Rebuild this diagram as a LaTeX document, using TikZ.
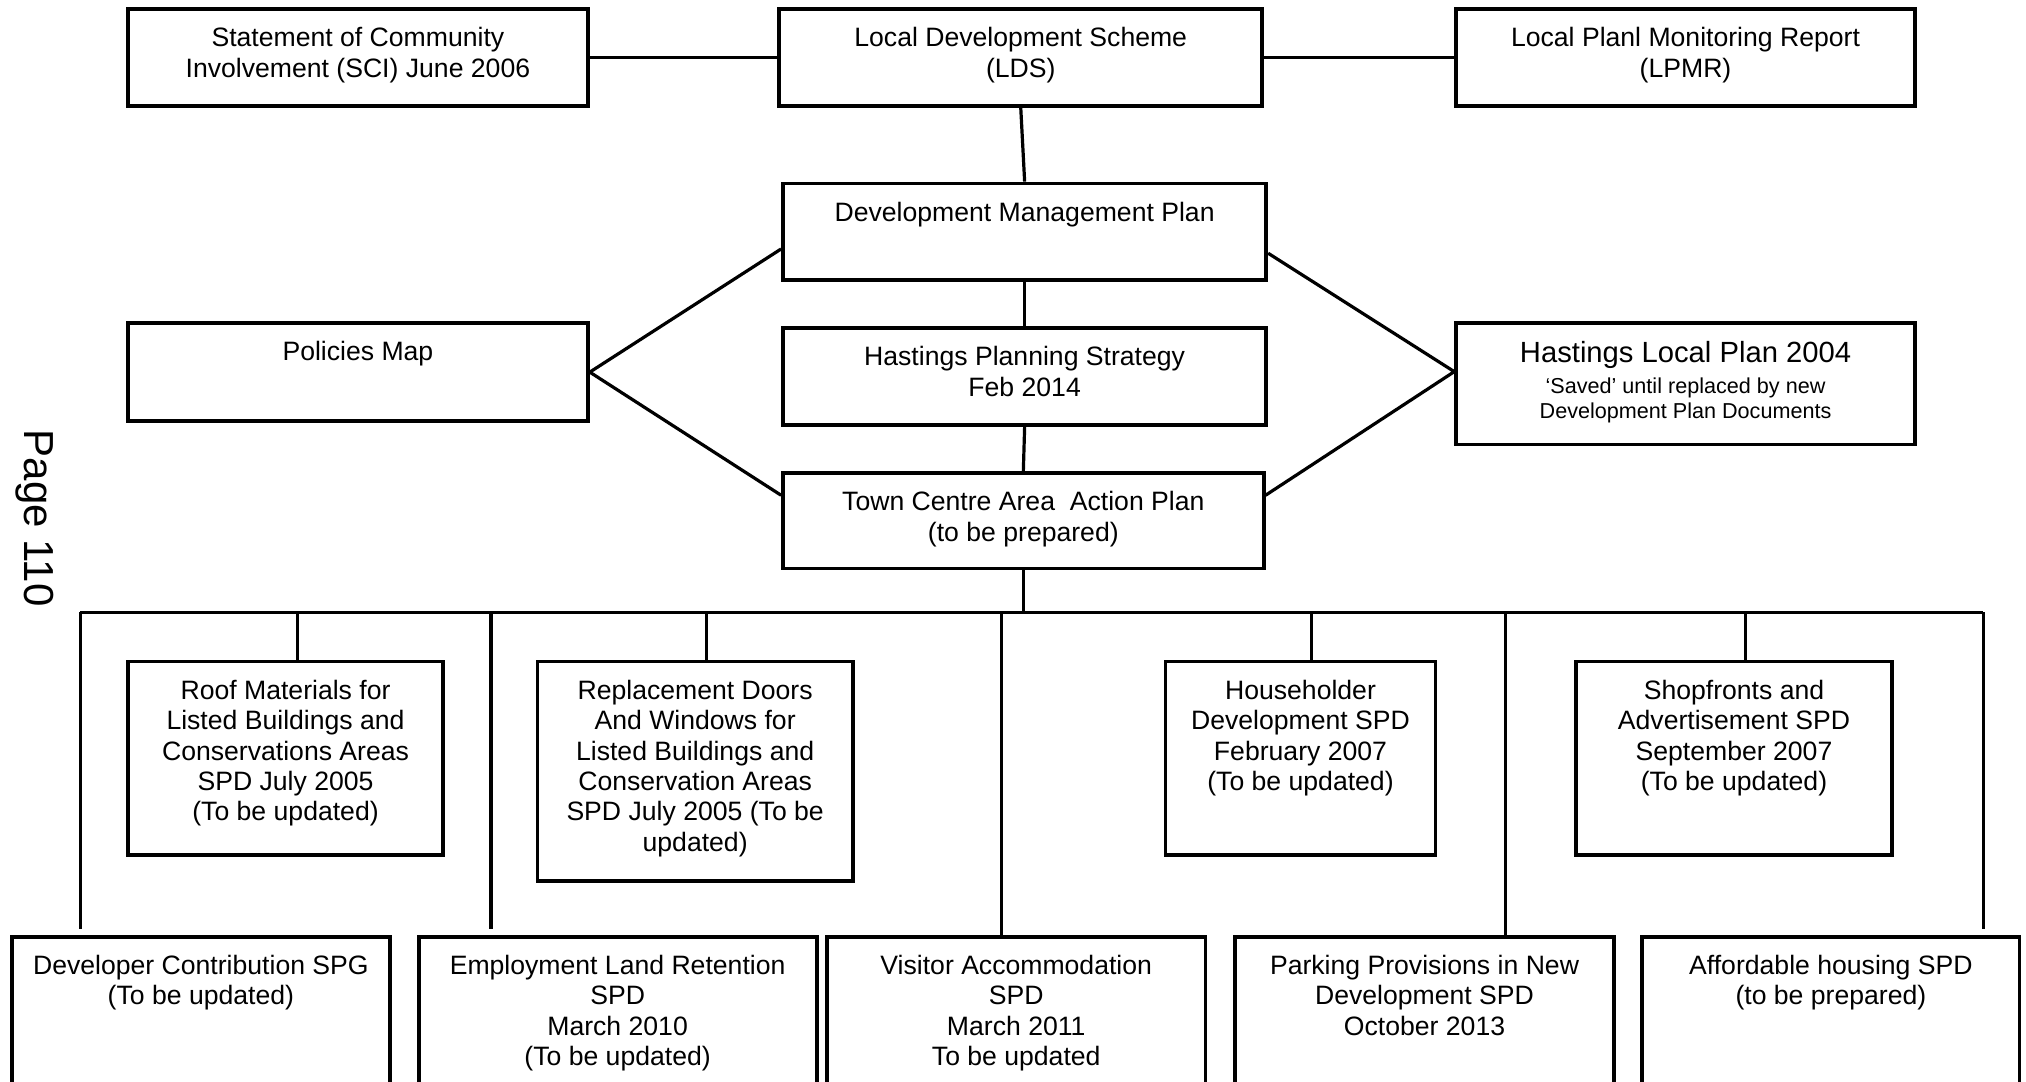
\documentclass[tikz,border=0pt]{standalone}
\usepackage{fontspec}
\setmainfont{Liberation Sans}
\usetikzlibrary{positioning}

\newlength\pxu
\setlength\pxu{0.646pt}

\tikzset{
    doc/.style={draw, rectangle, line width=1.9pt, inner sep=0pt},
    txt/.style={anchor=north, align=center, inner sep=0pt, font=\fontsize{13.3}{15.2}\selectfont},
    link/.style={line width=1.6pt},
}

\begin{document}
\begin{tikzpicture}[x=0.646pt, y=-0.646pt]
    \useasboundingbox (0,0) rectangle (1568,837);
    \clip (0,0) rectangle (1568,837);

    % Top row
    \node[doc, minimum width=356*\pxu, minimum height=75*\pxu] (sci) at (277,44.5) {};
    \node[doc, minimum width=374*\pxu, minimum height=75*\pxu] (lds) at (790,44.5) {};
    \node[doc, minimum width=355*\pxu, minimum height=75*\pxu] (lpmr) at (1304.5,44.5) {};
    \node[txt, below=10pt of sci.north] (scit) {Statement of Community\\Involvement (SCI) June 2006};
    \node[txt, below=10pt of lds.north] (ldst) {Local Development Scheme\\(LDS)};
    \node[txt, below=10pt of lpmr.north] (lpmrt) {Local Planl Monitoring Report\\(LPMR)};

    % Plans
    \node[doc, minimum width=374*\pxu, minimum height=75*\pxu] (dmp) at (793,179.5) {};
    \node[doc, minimum width=356*\pxu, minimum height=76*\pxu] (pmap) at (277,288) {};
    \node[doc, minimum width=374*\pxu, minimum height=75*\pxu] (hps) at (793,291.5) {};
    \node[doc, minimum width=355*\pxu, minimum height=94*\pxu] (hlp) at (1304.5,297) {};
    \node[doc, minimum width=372*\pxu, minimum height=74*\pxu] (tcaap) at (792,403) {};
    \node[txt, below=10pt of dmp.north] (dmpt) {Development Management Plan};
    \node[txt, below=10pt of pmap.north] (pmapt) {Policies Map};
    \node[txt, below=10pt of hps.north] (hpst) {Hastings Planning Strategy\\Feb 2014};
    \node[txt, below=10pt of hlp.north, font=\fontsize{14.6}{16}\selectfont] (hlpt) {Hastings Local Plan 2004};
    \node[txt, below=28pt of hlp.north, font=\fontsize{10.8}{12.9}\selectfont] (hlps) {`Saved' until replaced by new\\Development Plan Documents};
    \node[txt, below=10pt of tcaap.north] (tcaapt) {Town Centre Area~~Action Plan\\(to be prepared)};

    % SPDs
    \node[doc, minimum width=244*\pxu, minimum height=150*\pxu] (roof) at (221,587) {};
    \node[doc, minimum width=244*\pxu, minimum height=170*\pxu] (repl) at (538,597) {};
    \node[doc, minimum width=209*\pxu, minimum height=150*\pxu] (house) at (1006.5,587) {};
    \node[doc, minimum width=244*\pxu, minimum height=150*\pxu] (shop) at (1342,587) {};
    \node[txt, below=10pt of roof.north] (rooft) {Roof Materials for\\Listed Buildings and\\Conservations Areas\\SPD July 2005\\(To be updated)};
    \node[txt, below=10pt of repl.north] (replt) {Replacement Doors\\And Windows for\\Listed Buildings and\\Conservation Areas\\SPD July 2005 (To be\\updated)};
    \node[txt, below=10pt of house.north] (houset) {Householder\\Development SPD\\February 2007\\(To be updated)};
    \node[txt, below=10pt of shop.north] (shopt) {Shopfronts and\\Advertisement SPD\\September 2007\\(To be updated)};

    \node[doc, minimum width=293*\pxu, minimum height=140*\pxu] (devc) at (155.5,795) {};
    \node[doc, minimum width=308*\pxu, minimum height=140*\pxu] (empl) at (478,795) {};
    \node[doc, minimum width=293*\pxu, minimum height=140*\pxu] (visit) at (786.5,795) {};
    \node[doc, minimum width=293*\pxu, minimum height=140*\pxu] (park) at (1102.5,795) {};
    \node[doc, minimum width=292*\pxu, minimum height=140*\pxu] (afford) at (1417,795) {};
    \node[txt, below=10pt of devc.north] (devct) {Developer Contribution SPG\\(To be updated)};
    \node[txt, below=10pt of empl.north] (emplt) {Employment Land Retention\\SPD\\March 2010\\(To be updated)};
    \node[txt, below=10pt of visit.north] (visitt) {Visitor Accommodation\\SPD\\March 2011\\To be updated};
    \node[txt, below=10pt of park.north] (parkt) {Parking Provisions in New\\Development SPD\\October 2013};
    \node[txt, below=10pt of afford.north] (affordt) {Affordable housing SPD\\(to be prepared)};

    % Page number
    \node[rotate=-90, inner sep=0pt, font=\fontsize{21}{24}\selectfont] (page) at (27,401) {Page 110};

    % Links
    \draw[link] (sci.east) -- (lds.west);
    \draw[link] (lds.east) -- (lpmr.west);
    \draw[link] (lds.south) -- (dmp.north);
    \draw[link] (dmp.south) -- (hps.north);
    \draw[link] (hps.south) -- (tcaap.north);
    \draw[link] (dmp.184) -- (pmap.east) -- (tcaap.174);
    \draw[link] (dmp.-5) -- (hlp.177) -- (tcaap.6);

    % Bus to the SPDs
    \coordinate (bus) at (792,474);
    \foreach \n/\x in {1/62, 2/230, 3/380, 4/547, 5/775, 6/1015, 7/1165, 8/1351, 9/1535}
        \coordinate (d\n) at (\x,474);
    \draw[link] (tcaap.south) -- (bus);
    \draw[link] (d1) -- (d9);
    \foreach \d/\b in {d2/roof, d4/repl, d6/house, d8/shop, d5/visit, d7/park}
        \draw[link] (\d) -- (\d |- \b.north);
    \foreach \d/\b in {d1/devc, d3/empl, d9/afford}
        \draw[link, shorten >=3pt] (\d) -- (\d |- \b.north);
\end{tikzpicture}
\end{document}
